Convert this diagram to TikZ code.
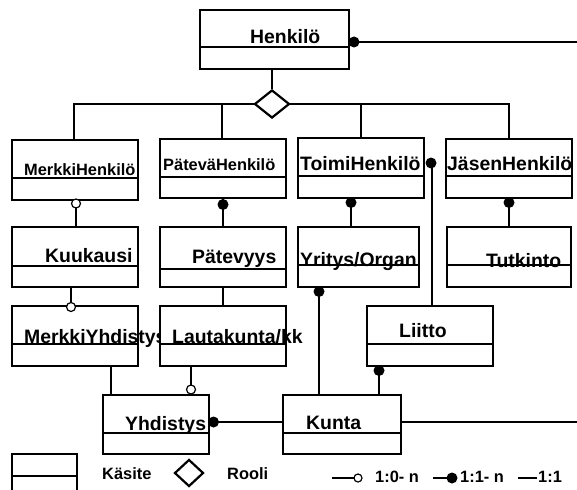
\documentclass[tikz,border=0pt]{standalone}
\usepackage{fontspec}
\setmainfont{Liberation Sans}
\usetikzlibrary{shapes.geometric}

\newcommand{\bigtxt}{\fontsize{19.4}{20}\selectfont\bfseries}
\newcommand{\smalltxt}{\fontsize{16.4}{18}\selectfont\bfseries}

% concept box: name, x1, y1, x2, y2, y of the divider line
\newcommand{\conceptbox}[6]{%
  \node[box, minimum width={#4-#2}, minimum height={#5-#3}] (#1) at ({(#2+#4)/2},{(#3+#5)/2}) {};
  \draw[divider] (#2,#6) -- (#4,#6);
}

\begin{document}
\begin{tikzpicture}[x=1pt, y=-1pt,
  box/.style={draw, rectangle, fill=white, line width=1.6pt, inner sep=0pt, outer sep=0pt},
  divider/.style={line width=1.4pt},
  role/.style={draw, diamond, fill=white, line width=2.2pt, inner sep=0pt},
  tree/.style={line width=2.5pt},
  link/.style={line width=1.3pt},
  lbl/.style={anchor=base west, inner sep=0pt, font=\bigtxt},
  slbl/.style={anchor=base west, inner sep=0pt, font=\smalltxt},
  one/.style={fill=black},
  zero/.style={draw, fill=white, line width=1.2pt}]

\clip (0,0) rectangle (577,489);

% ---- top concept and role hierarchy
\conceptbox{henk}{200}{10}{349}{69}{47}
\node[lbl] (henkT) at (250,44) {Henkilö};
\coordinate (eastA) at (577,42);
\draw[link] (henk.east |- eastA) -- (eastA);
\fill[one] (354,42) circle (5.5);

\draw[tree] (74,0 |- 0,140) -- (74,104) -- (509,104) -- (509,139);
\draw[tree] (222,104) -- (222,139);
\draw[tree] (361,104) -- (361,138);
\node[role, minimum width=35, minimum height=28] (dia) at (272,104) {};
\draw[tree] (dia.north |- henk.south) -- (dia.north);

% ---- first row
\conceptbox{mh}{12}{140}{138}{200}{178}
\node[slbl] (mhT) at (24,175) {MerkkiHenkilö};
\conceptbox{ph}{160}{139}{286}{198}{177}
\node[slbl] (phT) at (163,170) {PäteväHenkilö};
\conceptbox{th}{298}{138}{424}{198}{176}
\node[lbl] (thT) at (300,170) {ToimiHenkilö};
\conceptbox{jh}{446}{139}{572}{198}{176}
\node[lbl] (jhT) at (447,170) {JäsenHenkilö};

% ---- second row
\conceptbox{kuu}{12}{227}{138}{287}{266}
\node[lbl] (kuuT) at (45,262) {Kuukausi};
\conceptbox{pat}{160}{227}{286}{287}{269}
\node[lbl] (patT) at (192,263) {Pätevyys};
\conceptbox{yo}{298}{227}{419}{287}{265}
\node[lbl] (yoT) at (300,266) {Yritys/Organ};
\conceptbox{tut}{447}{227}{571}{287}{265}
\node[lbl] (tutT) at (486,267) {Tutkinto};

% ---- third row
\conceptbox{my}{12}{306}{138}{366}{344}
\node[lbl] (myT) at (24,343) {MerkkiYhdistys};
\conceptbox{lk}{160}{306}{286}{366}{344}
\node[lbl] (lkT) at (172,343) {Lautakunta/kk};
\conceptbox{lii}{367}{306}{493}{366}{344}
\node[lbl] (liiT) at (399,337) {Liitto};

% ---- fourth row
\conceptbox{yh}{103}{395}{209}{454}{433}
\node[lbl] (yhT) at (125,430) {Yhdistys};
\conceptbox{kun}{283}{395}{401}{454}{433}
\node[lbl] (kunT) at (306,429) {Kunta};

% ---- connectors between concepts
\draw[link] (76,0 |- mh.south) -- (76,0 |- kuu.north);
\draw[zero] (76,203.5) circle (4.5);

\draw[link] (223,0 |- ph.south) -- (223,0 |- pat.north);
\fill[one] (223,204.5) circle (5.5);

\draw[link] (351,0 |- th.south) -- (351,0 |- yo.north);
\fill[one] (351,202.5) circle (5.5);

\draw[link] (509,0 |- jh.south) -- (509,0 |- tut.north);
\fill[one] (509,202.5) circle (5.5);

\draw[link] (432,163) -- (432,0 |- lii.north);
\fill[one] (431,163) circle (5.5);

\draw[link] (71,0 |- kuu.south) -- (71,0 |- my.north);
\draw[zero] (71,307) circle (4.5);

\draw[link] (223,0 |- pat.south) -- (223,0 |- lk.north);

\draw[link] (319,0 |- yo.south) -- (319,0 |- kun.north);
\fill[one] (319,291.5) circle (5.5);

\draw[link] (111,0 |- my.south) -- (111,0 |- yh.north);

\draw[link] (191,0 |- lk.south) -- (191,0 |- yh.north);
\draw[zero] (191,389.5) circle (4.5);

\draw[link] (379,0 |- lii.south) -- (379,0 |- kun.north);
\fill[one] (379,370.5) circle (5.5);

\draw[link] (yh.east |- 0,422) -- (kun.west |- 0,422);
\fill[one] (213.5,422) circle (5.5);

\coordinate (eastB) at (577,422);
\draw[link] (kun.east |- eastB) -- (eastB);

% ---- legend
\node[box, minimum width=65, minimum height=40] (legbox) at (44.5,474) {};
\draw[divider] (legbox.west |- 0,476) -- (legbox.east |- 0,476);
\node[slbl] (legK) at (102,479) {Käsite};
\node[role, minimum width=29, minimum height=27] (legdia) at (189,473) {};
\node[slbl] (legR) at (227,479) {Rooli};

\coordinate (l1a) at (332,478);
\coordinate (l1b) at (354,478);
\draw[link] (l1a) -- (l1b);
\draw[zero] (358,478) circle (4);
\node[slbl] (legZ) at (375,482) {1:0- n};

\coordinate (l2a) at (433,478);
\coordinate (l2b) at (450,478);
\draw[link] (l2a) -- (l2b);
\fill[one] (452,478) circle (5.5);
\node[slbl] (legO) at (460,482) {1:1- n};

\coordinate (l3a) at (518,478);
\coordinate (l3b) at (537,478);
\draw[link] (l3a) -- (l3b);
\node[slbl] (legE) at (538,482) {1:1};

\end{tikzpicture}
\end{document}
